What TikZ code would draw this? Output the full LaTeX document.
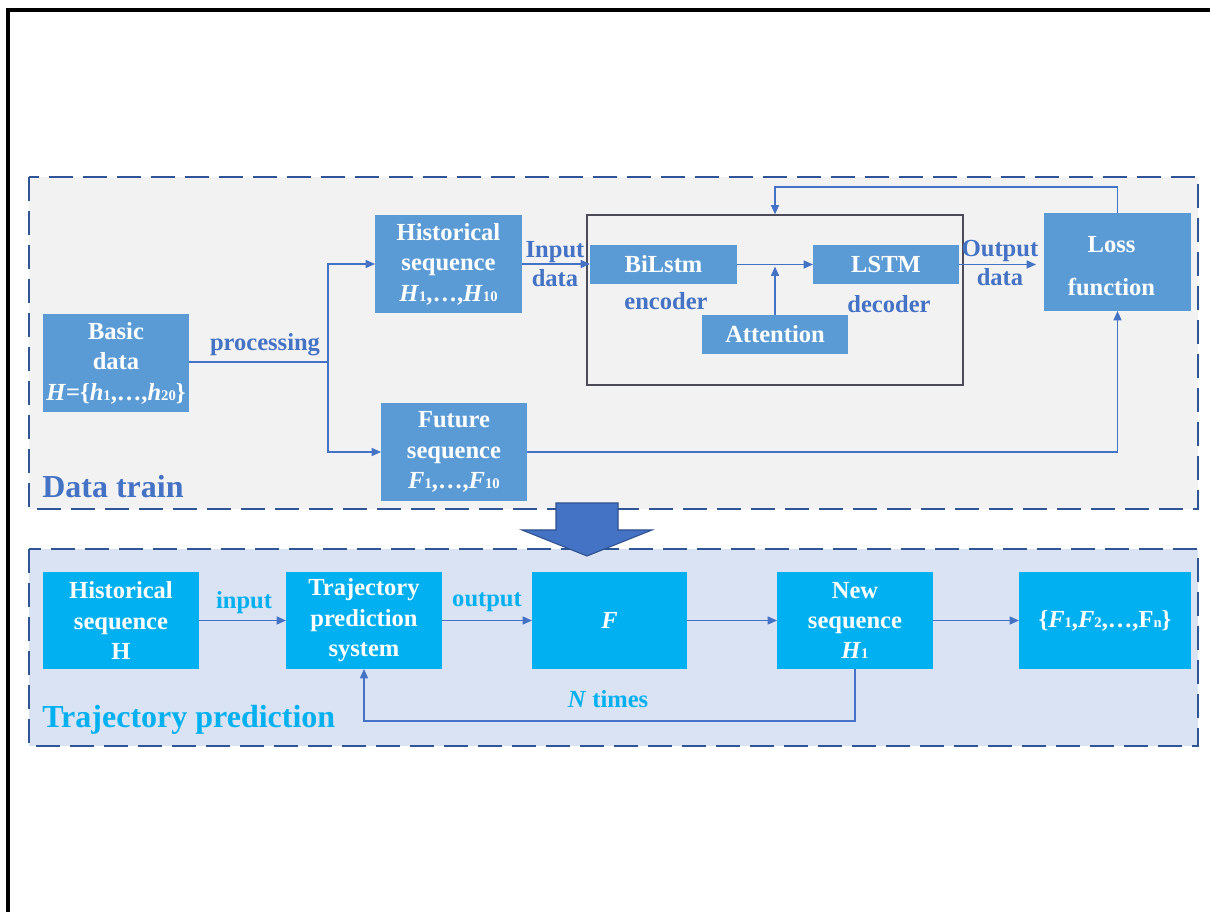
\documentclass[tikz,border=0pt]{standalone}
\usepackage{fontspec}
\setmainfont{Liberation Serif}
\usetikzlibrary{arrows.meta}

\definecolor{trainbg}{HTML}{F2F2F2}
\definecolor{predbg}{HTML}{DAE3F3}
\definecolor{borderblue}{HTML}{2F5597}
\definecolor{boxblue}{HTML}{5B9BD5}
\definecolor{boxcyan}{HTML}{00B0F0}
\definecolor{linkblue}{HTML}{4472C4}
\definecolor{arrowedge}{HTML}{2F528F}
\definecolor{framegray}{HTML}{4A4A5A}

% small index digits set on the baseline
\newcommand{\sbs}[1]{{\fontsize{11}{11}\selectfont #1}}

\begin{document}
\begin{tikzpicture}[x=0.75pt,y=-0.75pt,
  region/.style={draw=borderblue, line width=2.2pt, dash pattern=on 18pt off 7.5pt},
  boxbase/.style={text=white, align=center, inner sep=0pt, outer sep=0pt,
    font=\fontsize{18.4}{22.8}\selectfont\bfseries},
  tbox/.style={boxbase, fill=boxblue},
  bbox/.style={boxbase, fill=boxcyan},
  tall/.style={minimum height=73.5pt},
  flat/.style={minimum height=29.25pt},
  conn/.style={draw=linkblue, line width=1.1pt},
  arr/.style={conn, -{Triangle[length=7pt,width=6pt]}},
  tlabel/.style={text=linkblue, align=center, inner sep=0pt,
    font=\fontsize{18.4}{22}\selectfont\bfseries},
  blabel/.style={tlabel, text=boxcyan},
  biglabel/.style={inner sep=0pt, anchor=west, font=\fontsize{24}{28}\selectfont\bfseries}
]
\useasboundingbox (0,0) rectangle (1210,912);
\fill[white] (0,0) rectangle (1210,912);

% outer page frame
\draw[line width=2.3pt, line cap=rect] (8,912) -- (8,10) -- (1210,10);

% the two stage regions
\draw[region, fill=trainbg] (29,177) rectangle (1198,509);
\draw[region, fill=predbg] (29,549) rectangle (1198,746);

% transition arrow between the stages
\draw[fill=linkblue, draw=arrowedge, line width=0.8pt]
  (556,503) -- (618,503) -- (618,530) -- (652,530) -- (587,556)
  -- (522,530) -- (556,530) -- cycle;

% ---------------- training stage ----------------
\node[draw=framegray, line width=0.9pt, inner sep=0pt,
  minimum width=282pt, minimum height=127.5pt] (enc) at (775,300) {};

\node[tbox, tall, minimum width=109.5pt] (basic) at (116,363)
  {Basic\\data\\\textit{H}=\{\textit{h}\sbs{1},…,\textit{h}\sbs{20}\}};
\node[tbox, tall, minimum width=110.25pt] (hist) at (448.5,264)
  {Historical\\sequence\\\textit{H}\sbs{1},…,\textit{H}\sbs{10}};
\node[tbox, tall, minimum width=109.5pt] (fut) at (454,452)
  {Future\\sequence\\\textit{F}\sbs{1},…,\textit{F}\sbs{10}};
\node[tbox, flat, minimum width=110.25pt] (bilstm) at (663.5,264.5) {BiLstm};
\node[tbox, flat, minimum width=109.5pt] (lstm) at (886,264.5) {LSTM};
\node[tbox, flat, minimum width=109.5pt] (att) at (775,334.5) {Attention};
\node[tbox, tall, minimum width=110.25pt] (loss) at (1117.5,262) {};
\node[boxbase] (losstxt) at ([xshift=-4.5pt,yshift=-3pt]loss.center)
  {Loss\\[10pt]function};

\node[tlabel] (proc) at (265,345) {processing};
\node[tlabel] (inlbl) at (555,264) {Input\\data};
\node[tlabel] (outlbl) at (1000,263) {Output\\data};
\node[tlabel] (enclbl) at (666,301) {encoder};
\node[tlabel] (declbl) at (889,304) {decoder};
\node[biglabel, text=linkblue] (trainlbl) at (42,487) {Data train};

\coordinate (split) at (328,362);
\draw[conn] (basic.east |- split) -- (split);
\draw[arr] (split) |- (hist.west);
\draw[arr] (split) |- (fut.west);
\draw[arr] (hist.east) -- (hist.east -| bilstm.west);
\draw[arr] (bilstm.east) -- (bilstm.east -| lstm.west);
\draw[arr, shorten >=1.5pt] (att.north) -- (att.north |- bilstm.east);
\draw[arr, shorten >=6pt] (lstm.east) -- (lstm.east -| loss.west);
\draw[arr] (loss.north) -- ++(0,-26) -| (enc.north);
\draw[arr] (fut.east) -| (loss.south);

% ---------------- prediction stage ----------------
\node[bbox, minimum height=72.75pt, minimum width=117pt] (bhist) at (121,620.5)
  {Historical\\sequence\\H};
\node[bbox, minimum height=72.75pt, minimum width=117pt] (tps) at (364,620.5)
  {Trajectory\\prediction\\system};
\node[bbox, minimum height=72.75pt, minimum width=116.25pt] (fout) at (609.5,620.5)
  {\textit{F}};
\node[bbox, minimum height=72.75pt, minimum width=117pt] (newseq) at (855,620.5)
  {New\\sequence\\\textit{H}\sbs{1}};
\node[bbox, minimum height=72.75pt, minimum width=129pt] (fset) at (1105,620.5)
  {\{\textit{F}\sbs{1},\textit{F}\sbs{2},…,F\sbs{n}\}};

\node[blabel] (inplbl) at (244,603) {input};
\node[blabel] (outplbl) at (487,602) {output};
\node[blabel] (ntimes) at (608,699) {\textit{N} times};
\node[biglabel, text=boxcyan] (predlbl) at (42,720) {Trajectory prediction};

\draw[arr] (bhist.east) -- (tps.west);
\draw[arr] (tps.east) -- (fout.west);
\draw[arr] (fout.east) -- (newseq.west);
\draw[arr] (newseq.east) -- (fset.west);
\draw[arr] (newseq.south) -- ++(0,52) -| (tps.south);
\end{tikzpicture}
\end{document}
